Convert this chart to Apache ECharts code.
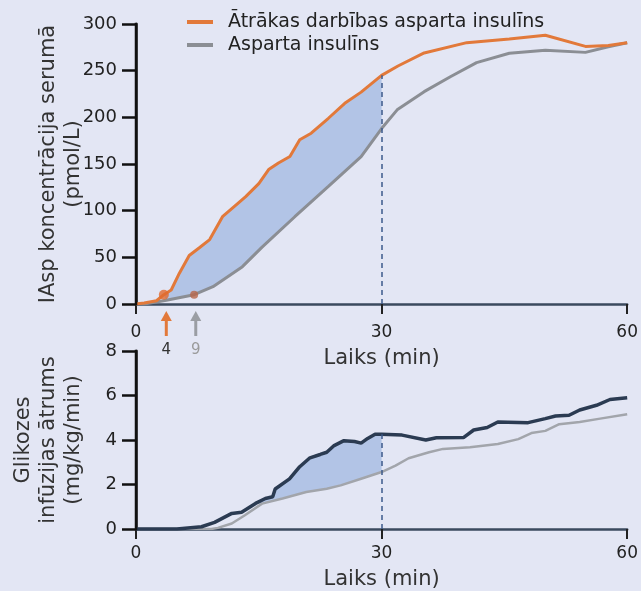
<!DOCTYPE html>
<html>
<head>
<meta charset="utf-8">
<script src="https://cdn.jsdelivr.net/npm/echarts@6/dist/echarts.min.js"></script>
<style>
html,body{margin:0;padding:0;background:#e3e6f4;}
#c{width:641px;height:591px;}
</style>
</head>
<body>
<div id="c"></div>
<script>
// ---- Data ----
var fastName = 'Ātrākas darbības asparta insulīns';
var aspName = 'Asparta insulīns';

// Top panel: serum IAsp concentration (pmol/L) vs time (min)
var fastT = [0, 1, 2.5, 3.4, 4.3, 5.3, 6.5, 7.7, 9, 10.6, 12.2, 13.4, 15, 16.2, 17.4, 18.8, 20, 21.4, 23.5, 25.5, 27.5, 30, 32, 35.2, 40.4, 45.6, 50, 54.9, 57.7, 60];
var fastV = [0, 1, 3.5, 10, 15, 33, 52, 60, 69, 94, 106, 115, 129, 144, 151, 158, 176, 183, 199, 215, 227, 245, 255, 269, 280, 284, 288, 276, 277, 280];
var aspT = [0, 1, 3.7, 7.1, 9.4, 13, 15.4, 19.4, 23.5, 27.5, 30, 31.9, 35.2, 38.4, 41.6, 45.6, 50, 54.9, 57.7, 60];
var aspV = [0, 0, 4, 10, 18.6, 40, 61, 93.5, 126, 158, 188, 208, 227.5, 243.5, 258.6, 268.6, 272, 269.6, 275.7, 280];

// Onset markers and arrows (labels 4 and 9 min)
var onsetLabels = ['4', '9'];
var onsetMarkT = [3.4, 7.1];
var onsetMarkV = [10, 10];
var onsetArrowT = [3.7, 7.3];

// Bottom panel: glucose infusion rate (mg/kg/min)
var gFastT = [0, 5, 8, 9.6, 11.7, 12.9, 14.6, 15.8, 16.7, 17, 18.75, 20, 21.25, 22.5, 23.3, 24.2, 25.4, 26.7, 27.5, 28.3, 29.2, 30, 32.5, 35.4, 36.7, 40, 41.25, 42.9, 44.2, 47.9, 50, 51.25, 52.9, 54.2, 56.25, 57.9, 60];
var gFastV = [0, 0, 0.1, 0.3, 0.7, 0.75, 1.15, 1.37, 1.45, 1.8, 2.25, 2.8, 3.2, 3.35, 3.45, 3.75, 3.97, 3.93, 3.86, 4.07, 4.26, 4.26, 4.22, 4.0, 4.1, 4.11, 4.45, 4.56, 4.81, 4.78, 4.96, 5.08, 5.11, 5.35, 5.56, 5.82, 5.9];
var gAspT = [0, 9.2, 10, 11.7, 13.3, 15.4, 17.9, 20.8, 23.3, 25, 27.5, 30, 31.7, 33.3, 35.8, 37.5, 40.8, 44.2, 46.7, 48.3, 50, 51.7, 54.2, 56.7, 60];
var gAspV = [0, 0, 0.05, 0.25, 0.62, 1.14, 1.37, 1.66, 1.81, 1.96, 2.26, 2.56, 2.85, 3.18, 3.45, 3.6, 3.67, 3.82, 4.04, 4.31, 4.41, 4.71, 4.81, 4.96, 5.16];

var xTicks = [0, 30, 60];
var topYTicks = [0, 50, 100, 150, 200, 250, 300];
var botYTicks = [0, 2, 4, 6, 8];
var yMax = [300, 8];
var cutT = 30;

// ---- helpers ----
function pairs(ts, vs) { return ts.map(function (t, i) { return [t, vs[i]]; }); }
function range(ts, vs, a, b) { return pairs(ts, vs).filter(function (p) { return p[0] >= a && p[0] <= b; }); }
function valAt(ts, vs, t) { return vs[ts.indexOf(t)]; }

var topFill = range(fastT, fastV, 3.4, cutT).concat(range(aspT, aspV, 3.4, cutT).reverse());
var botFill = range(gFastT, gFastV, 14.6, cutT).concat(range(gAspT, gAspV, 14.6, cutT).reverse());

var C_OR = '#e2793a', C_GR = '#8b8e94', C_NAVY = '#2b3b52', C_GR2 = '#a2a5ab', C_FILL = '#b2c4e6', C_DASH = '#3d5a8a';
var FONT = 'DejaVu Sans';

function xAxisCfg(gi, margin, gap) {
  return {
    type: 'value', gridIndex: gi, min: 0, max: 60, interval: 30,
    axisLine: { show: true, onZero: false, lineStyle: { color: '#3b4a5e', width: 2.5 } },
    axisTick: { show: true, length: 10, lineStyle: { color: '#222', width: 2 } },
    axisLabel: { fontSize: 17, color: '#222', margin: margin, fontFamily: FONT,
      formatter: function (v) { return xTicks.indexOf(v) >= 0 ? String(v) : ''; } },
    splitLine: { show: false },
    name: 'Laiks (min)', nameLocation: 'middle', nameGap: gap,
    nameTextStyle: { fontSize: 21, color: '#333', fontFamily: FONT }
  };
}
function yAxisCfg(gi, max, interval, ticks, name) {
  return {
    type: 'value', gridIndex: gi, min: 0, max: max, interval: interval,
    axisLine: { show: true, onZero: false, lineStyle: { color: '#111', width: 2.5 } },
    axisTick: { show: true, inside: false, length: 14, lineStyle: { color: '#111', width: 2.5 } },
    axisLabel: { show: true, fontSize: 18, color: '#222', margin: 19, fontFamily: FONT,
      formatter: function (v) { return ticks.indexOf(v) >= 0 ? String(v) : ''; } },
    splitLine: { show: false },
    name: name, nameLocation: 'middle', nameRotate: 90, nameGap: 50, nameMoveOverlap: false,
    nameTextStyle: { fontSize: 21, lineHeight: 25, color: '#333', fontFamily: FONT }
  };
}
function fillSeries(xi, pts) {
  return {
    type: 'custom', xAxisIndex: xi, yAxisIndex: xi, data: [[0, 0]], silent: true, clip: true, z: 1,
    renderItem: function (params, api) {
      return { type: 'polygon', shape: { points: pts.map(function (p) { return api.coord(p); }) },
        style: { fill: C_FILL } };
    }
  };
}
function dashLine(ts, vs) {
  return {
    silent: true, symbol: ['none', 'none'], animation: false, label: { show: false },
    lineStyle: { type: [5, 4], color: C_DASH, width: 1.5 },
    data: [[{ coord: [cutT, 0] }, { coord: [cutT, valAt(ts, vs, cutT)] }]]
  };
}

var chart = echarts.init(document.getElementById('c'), null, { renderer: 'canvas' });
chart.setOption({
  backgroundColor: '#e3e6f4',
  animation: false,
  textStyle: { fontFamily: FONT },
  legend: {
    data: [fastName, aspName], orient: 'vertical', left: 187, top: 12, padding: 0,
    itemWidth: 26, itemHeight: 4, itemGap: 3, icon: 'rect',
    textStyle: { fontSize: 19, lineHeight: 20, color: '#222', fontFamily: FONT, padding: [0, 0, 0, 10] },
    selectedMode: false
  },
  grid: [
    { left: 136, right: 9, top: 24, height: 280 },
    { left: 136, right: 9, top: 351, height: 179 }
  ],
  xAxis: [xAxisCfg(0, 20, 44), xAxisCfg(1, 16, 40)],
  yAxis: [
    yAxisCfg(0, yMax[0], 50, topYTicks, 'IAsp koncentrācija serumā\n(pmol/L)'),
    yAxisCfg(1, yMax[1], 2, botYTicks, 'Glikozes\ninfūzijas ātrums\n(mg/kg/min)')
  ],
  series: [
    fillSeries(0, topFill),
    { name: fastName, type: 'line', xAxisIndex: 0, yAxisIndex: 0, data: pairs(fastT, fastV), symbol: 'none',
      lineStyle: { color: C_OR, width: 3 }, itemStyle: { color: C_OR }, z: 3, markLine: dashLine(fastT, fastV) },
    { name: aspName, type: 'line', xAxisIndex: 0, yAxisIndex: 0, data: pairs(aspT, aspV), symbol: 'none',
      lineStyle: { color: C_GR, width: 3 }, itemStyle: { color: C_GR }, z: 2 },
    { name: 'onsetFast', type: 'scatter', xAxisIndex: 0, yAxisIndex: 0, data: [[onsetMarkT[0], onsetMarkV[0]]],
      symbol: 'circle', symbolSize: 10, itemStyle: { color: '#e06a30' }, z: 4, silent: true },
    { name: 'onsetAsp', type: 'scatter', xAxisIndex: 0, yAxisIndex: 0, data: [[onsetMarkT[1], onsetMarkV[1]]],
      symbol: 'circle', symbolSize: 8, itemStyle: { color: '#b8664a' }, z: 4, silent: true },
    fillSeries(1, botFill),
    { name: fastName + ' ', type: 'line', xAxisIndex: 1, yAxisIndex: 1, data: pairs(gFastT, gFastV), symbol: 'none',
      lineStyle: { color: C_NAVY, width: 3.5 }, itemStyle: { color: C_NAVY }, z: 3, markLine: dashLine(gFastT, gFastV) },
    { name: aspName + ' ', type: 'line', xAxisIndex: 1, yAxisIndex: 1, data: pairs(gAspT, gAspV), symbol: 'none',
      lineStyle: { color: C_GR2, width: 2.5 }, itemStyle: { color: C_GR2 }, z: 2 }
  ]
});

var g = [];
// Vertical y-axis lines, positioned through each grid's scales
[0, 1].forEach(function (gi) {
  var a = chart.convertToPixel({ gridIndex: gi }, [0, 0]);
  var b = chart.convertToPixel({ gridIndex: gi }, [0, yMax[gi]]);
  g.push({ type: 'line', silent: true, z: 50, shape: { x1: a[0], y1: a[1] + 1.25, x2: b[0], y2: b[1] - 1.25 },
    style: { stroke: '#111', lineWidth: 2.5 } });
});
// Onset arrows below the top x-axis
var arrowColors = [C_OR, '#9a9da3'];
var labelColors = ['#333', '#9a9a9a'];
onsetArrowT.forEach(function (t, i) {
  var p = chart.convertToPixel({ gridIndex: 0 }, [t, 0]);
  var x = p[0], y0 = p[1];
  g.push({ type: 'polygon', silent: true, shape: { points: [[x - 5.5, y0 + 17], [x + 5.5, y0 + 17], [x, y0 + 7]] }, style: { fill: arrowColors[i] } });
  g.push({ type: 'rect', silent: true, shape: { x: x - 1.5, y: y0 + 16, width: 3, height: 16 }, style: { fill: arrowColors[i] } });
  g.push({ type: 'text', silent: true, x: x, y: y0 + 46, style: { text: onsetLabels[i], fill: labelColors[i], font: '15px ' + FONT, textAlign: 'center', textVerticalAlign: 'middle' } });
});
chart.setOption({ graphic: g });
</script>
</body>
</html>
